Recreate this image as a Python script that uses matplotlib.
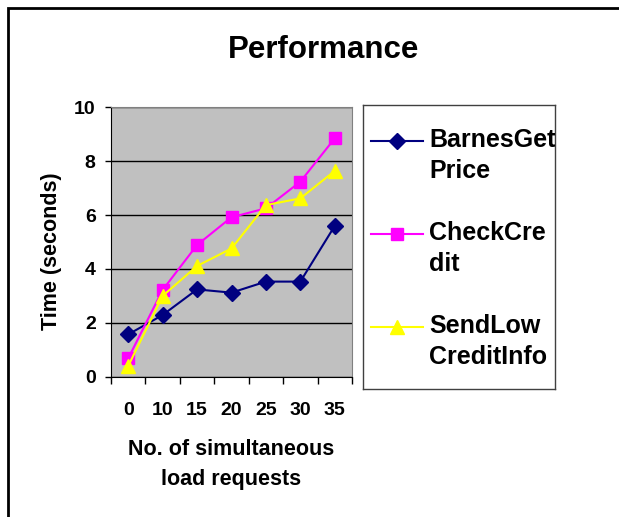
import matplotlib
matplotlib.use('Agg')
import matplotlib.pyplot as plt
import matplotlib.patches as patches

plt.rcParams['font.family'] = ['Liberation Sans', 'DejaVu Sans']
plt.rcParams['font.weight'] = 'bold'

# data
loads = ['0', '10', '15', '20', '25', '30', '35']
barnes = [1.57, 2.29, 3.24, 3.12, 3.53, 3.53, 5.60]
check = [0.68, 3.22, 4.89, 5.92, 6.25, 7.24, 8.85]
send = [0.40, 3.00, 4.11, 4.76, 6.37, 6.62, 7.64]
series_names = ['BarnesGet\nPrice', 'CheckCre\ndit', 'SendLow\nCreditInfo']
y_ticks = [0, 2, 4, 6, 8, 10]

W, H = 619, 517
fig = plt.figure(figsize=(W / 100, H / 100), dpi=100)
fig.patch.set_facecolor('white')

# outer frame (only top and left edges are in view)
fig.add_artist(patches.Rectangle(
    (7.5 / W, -0.2), 1.5, 0.2 + (H - 7.5) / H,
    transform=fig.transFigure, fill=False,
    edgecolor='black', linewidth=2, clip_on=False
))

fig.text(324 / W, 1 - 58 / H, 'Performance', ha='center', va='baseline',
         fontsize=22.5, fontweight='bold')

ax = fig.add_axes([111 / W, 1 - 376.7 / H, 241 / W, 269.4 / H])
ax.set_facecolor('#C0C0C0')

x = list(range(len(loads)))
styles = [
    (barnes, '#000080', 'D', 8),
    (check, '#FF00FF', 's', 8),
    (send, '#FFFF00', '^', 10),
]
for vals, col, mk, ms in styles:
    ax.plot(x, vals, color=col, linewidth=1.5, marker=mk, markersize=ms,
            markerfacecolor=col, markeredgecolor=col, clip_on=False, zorder=3)

ax.set_xlim(-0.5, len(loads) - 0.5)
ax.set_ylim(0, 10)
ax.set_yticks(y_ticks)
ax.set_xticks(x)
ax.set_xticklabels(loads)
ax.set_xticks([i - 0.5 for i in range(len(loads) + 1)], minor=True)
ax.tick_params(axis='x', which='major', length=0, pad=18, labelsize=14)
ax.tick_params(axis='x', which='minor', length=5, width=1, direction='out')
ax.tick_params(axis='y', length=4, width=1, direction='out', pad=7,
               labelsize=14)
ax.grid(axis='y', color='black', linewidth=1)

ax.spines['left'].set_color('black')
ax.spines['bottom'].set_color('black')
ax.spines['top'].set_color('#808080')
ax.spines['right'].set_color('#808080')

ax.set_ylabel('Time (seconds)', fontsize=15.5, fontweight='bold')
ax.yaxis.set_label_coords(-0.205, 0.467)
ax.set_xlabel('No. of simultaneous\nload requests', fontsize=15.5,
              fontweight='bold', linespacing=1.55, va='top')
ax.xaxis.set_label_coords(0.5, -0.233)

# legend box drawn by hand so the key sits on the first text line
lax = fig.add_axes([363 / W, 1 - 389 / H, 192 / W, 284 / H])
lax.set_xlim(0, 192)
lax.set_ylim(284, 0)
lax.set_xticks([])
lax.set_yticks([])
for s in lax.spines.values():
    s.set_color('#404040')
    s.set_linewidth(1)
for i, (name, (vals, col, mk, ms)) in enumerate(zip(series_names, styles)):
    y0 = 42 + 93 * i
    lax.plot([8, 34, 60], [y0 - 6] * 3, color=col, linewidth=1.5,
             marker=mk, markersize=ms, markevery=[1],
             markerfacecolor=col, markeredgecolor=col)
    for j, line in enumerate(name.split('\n')):
        lax.text(66, y0 + 31 * j, line, va='baseline', ha='left',
                 fontsize=18, fontweight='bold', clip_on=True)

fig.savefig('out.png', dpi=100)
